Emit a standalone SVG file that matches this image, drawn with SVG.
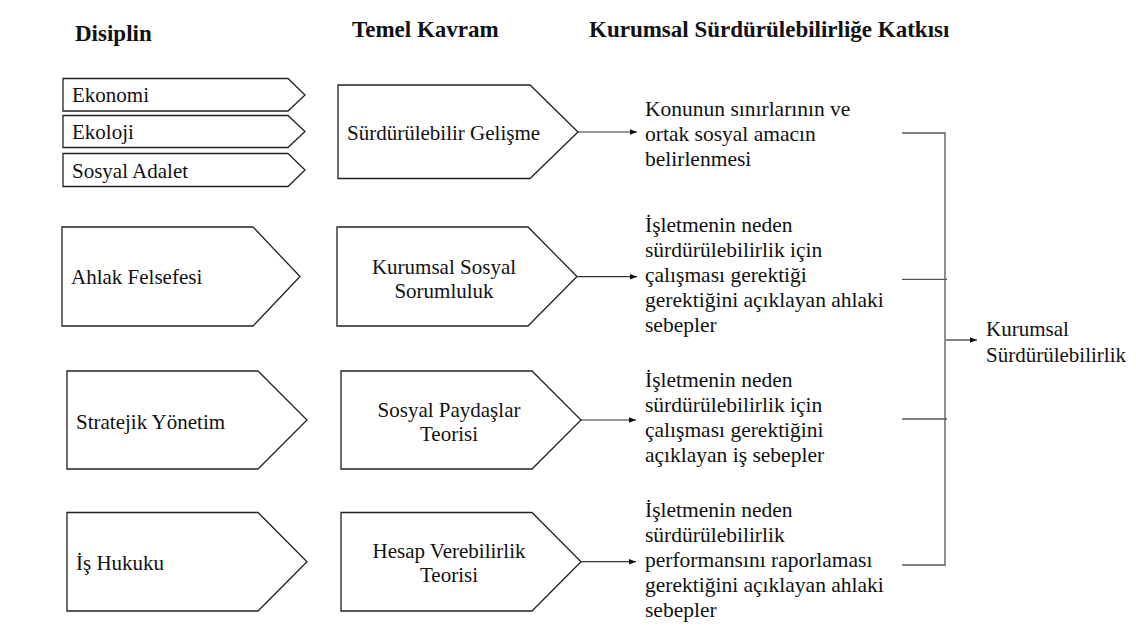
<svg xmlns="http://www.w3.org/2000/svg" width="1136" height="627" viewBox="0 0 1136 627" font-family="Liberation Serif, DejaVu Serif, serif">
<defs>
<style>
.hdr{font-weight:bold;font-size:23px;fill:#111}
.t{font-size:21px;fill:#111}
.r{font-size:21.5px;fill:#111}
.box{fill:#fff;stroke:#222;stroke-width:1.3}
.con{stroke:#333;stroke-width:1.2;fill:none}
.br{stroke:#555;stroke-width:1.3;fill:none}
</style>
<marker id="ah" viewBox="0 0 10 10" refX="10" refY="5" markerWidth="7" markerHeight="7" markerUnits="userSpaceOnUse" orient="auto">
<path d="M0,1 L10,5 L0,9 z" fill="#111"/>
</marker>
</defs>
<rect width="1136" height="627" fill="#fff"/>

<g id="headers">
<text class="hdr" x="75" y="41">Disiplin</text>
<text class="hdr" x="352" y="37">Temel Kavram</text>
<text class="hdr" x="589" y="37">Kurumsal Sürdürülebilirliğe Katkısı</text>
</g>

<g id="n-ekonomi">
<polygon class="box" points="63,78.5 288,78.5 305,95 288,111 63,111"/>
<text class="t" x="72" y="102">Ekonomi</text>
</g>
<g id="n-ekoloji">
<polygon class="box" points="63,115.5 288,115.5 305,131.5 288,147.5 63,147.5"/>
<text class="t" x="72" y="138.5">Ekoloji</text>
</g>
<g id="n-sosyaladalet">
<polygon class="box" points="63,153.5 288,153.5 305,170 288,186.5 63,186.5"/>
<text class="t" x="72" y="177.5">Sosyal Adalet</text>
</g>
<g id="n-surdurulebilir">
<polygon class="box" points="338,85 530,85 578,132 530,178.5 338,178.5"/>
<text class="t" x="347" y="140">Sürdürülebilir Gelişme</text>
</g>
<g id="n-konu">
<text class="r" x="645" y="116">Konunun sınırlarının ve</text>
<text class="r" x="645" y="141">ortak sosyal amacın</text>
<text class="r" x="645" y="166">belirlenmesi</text>
</g>

<g id="n-ahlak">
<polygon class="box" points="62,227 253,227 300,276.5 253,326 62,326"/>
<text class="t" x="71" y="284">Ahlak Felsefesi</text>
</g>
<g id="n-kss">
<polygon class="box" points="337,227 528,227 577,276.5 528,326 337,326"/>
<text class="t" x="444" y="273.5" text-anchor="middle">Kurumsal Sosyal</text>
<text class="t" x="444" y="298" text-anchor="middle">Sorumluluk</text>
</g>
<g id="n-neden1">
<text class="r" x="645" y="231.7">İşletmenin neden</text>
<text class="r" x="645" y="256.7">sürdürülebilirlik için</text>
<text class="r" x="645" y="281.7">çalışması gerektiği</text>
<text class="r" x="645" y="306.7">gerektiğini açıklayan ahlaki</text>
<text class="r" x="645" y="331.7">sebepler</text>
</g>

<g id="n-stratejik">
<polygon class="box" points="67,371 258,371 307,420 258,469 67,469"/>
<text class="t" x="76" y="428.5">Stratejik Yönetim</text>
</g>
<g id="n-paydas">
<polygon class="box" points="341,371 532,371 581,420 532,469 341,469"/>
<text class="t" x="449" y="416.7" text-anchor="middle">Sosyal Paydaşlar</text>
<text class="t" x="449" y="440.5" text-anchor="middle">Teorisi</text>
</g>
<g id="n-neden2">
<text class="r" x="645" y="387">İşletmenin neden</text>
<text class="r" x="645" y="412">sürdürülebilirlik için</text>
<text class="r" x="645" y="437">çalışması gerektiğini</text>
<text class="r" x="645" y="462">açıklayan iş sebepler</text>
</g>

<g id="n-ishukuku">
<polygon class="box" points="67,512.5 258,512.5 307,561.7 258,611 67,611"/>
<text class="t" x="76" y="570">İş Hukuku</text>
</g>
<g id="n-hesap">
<polygon class="box" points="341,512.5 532,512.5 581,561.7 532,611 341,611"/>
<text class="t" x="449" y="557.5" text-anchor="middle">Hesap Verebilirlik</text>
<text class="t" x="449" y="582" text-anchor="middle">Teorisi</text>
</g>
<g id="n-neden3">
<text class="r" x="645" y="516.7">İşletmenin neden</text>
<text class="r" x="645" y="541.7">sürdürülebilirlik</text>
<text class="r" x="645" y="566.7">performansını raporlaması</text>
<text class="r" x="645" y="591.7">gerektiğini açıklayan ahlaki</text>
<text class="r" x="645" y="616.7">sebepler</text>
</g>

<g id="n-ks">
<text class="t" x="986" y="336">Kurumsal</text>
<text class="t" x="986" y="361.5">Sürdürülebilirlik</text>
</g>

<g id="connectors">
<line class="con" x1="578" y1="132" x2="637" y2="132" marker-end="url(#ah)"/>
<line class="con" x1="577" y1="276.7" x2="637" y2="276.7" marker-end="url(#ah)"/>
<line class="con" x1="581" y1="420" x2="636" y2="420" marker-end="url(#ah)"/>
<line class="con" x1="581" y1="561.7" x2="636" y2="561.7" marker-end="url(#ah)"/>
<polyline class="br" points="902,133 945,133 945,565 902,565"/>
<line class="br" x1="902" y1="279.3" x2="947" y2="279.3"/>
<line class="br" x1="902" y1="419" x2="947" y2="419"/>
<line class="con" x1="946" y1="340" x2="977" y2="340" marker-end="url(#ah)"/>
</g>
</svg>
